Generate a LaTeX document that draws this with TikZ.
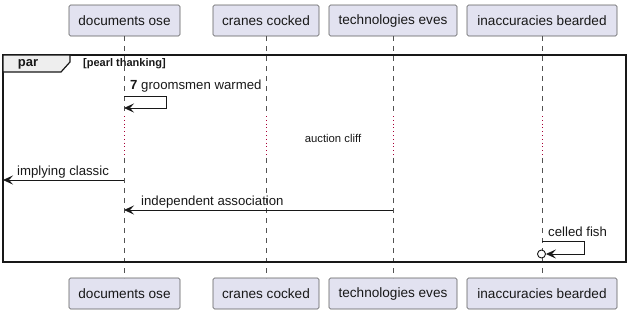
\documentclass[tikz,border=0pt]{standalone}
\usepackage{fontspec}
\setmainfont{Liberation Sans}
\usetikzlibrary{arrows.meta}
\definecolor{partfill}{HTML}{E2E2F0}
\definecolor{partline}{HTML}{5A5A5A}
\definecolor{ink}{HTML}{181818}
\definecolor{delayred}{HTML}{A80036}
\definecolor{tabfill}{HTML}{EEEEEE}
\tikzset{
  part/.style={draw=partline, fill=partfill, line width=0.6pt, rounded corners=1.5pt,
    minimum height=31pt, inner sep=0pt, font=\fontsize{13.6}{15}\selectfont, text=ink},
  life/.style={draw=ink!75, line width=0.5pt, dash pattern=on 5pt off 5pt},
  delay/.style={draw=delayred, line width=0.8pt, dash pattern=on 0.8pt off 3pt},
  msg/.style={draw=ink, line width=0.8pt, -{Stealth[length=10pt, width=9pt, inset=4pt]}},
  lbl/.style={font=\fontsize{13.2}{15}\selectfont, text=ink, inner sep=0pt, anchor=west},
  small/.style={font=\fontsize{11.3}{13}\selectfont, text=ink, inner sep=0pt},
  frameline/.style={draw=ink, line width=1.5pt},
}
\begin{document}
\begin{tikzpicture}[x=1pt, y=-1pt]
\useasboundingbox (0,0) rectangle (632,314);

% participants, top row
\node[part, minimum width=111pt] (dT) at (124.5,20.5) {documents ose};
\node[part, minimum width=106pt] (cT) at (266,20.5) {cranes cocked};
\node[part, minimum width=128pt] (tT) at (393,20.5) {technologies eves};
\node[part, minimum width=150pt] (iT) at (542,20.5) {inaccuracies bearded};
% participants, bottom row
\node[part, minimum width=111pt] (dB) at (124.5,293.5) {documents ose};
\node[part, minimum width=106pt] (cB) at (266,293.5) {cranes cocked};
\node[part, minimum width=128pt] (tB) at (393,293.5) {technologies eves};
\node[part, minimum width=150pt] (iB) at (542,293.5) {inaccuracies bearded};

% lifelines, broken by the delay section
\foreach \p/\x in {d/124, c/266, t/393, i/542}{
  \coordinate (\p1) at (\x,116);
  \coordinate (\p2) at (\x,158);
  \draw[life] (\x,36) -- (\p1);
  \draw[delay] (\p1) -- (\p2);
  \draw[life] (\p2) -- (\x,278);
}

% par frame
\draw[frameline] (3,55) rectangle (626,262);
\draw[line width=1.2pt, draw=ink, fill=tabfill]
  (3,55) -- (70,55) -- (70,62) -- (61,72) -- (3,72) -- cycle;
\node[font=\bfseries\fontsize{13}{15}\selectfont, text=ink, inner sep=0pt] (par) at (28,64.5) {par};
\node[small, font=\bfseries\fontsize{11}{13}\selectfont, anchor=west] (guard) at (83,64) {[pearl thanking]};

% self message on documents ose
\coordinate (s1a) at (124,96);
\coordinate (s1b) at (166,96);
\coordinate (s1c) at (166,108);
\coordinate (s1d) at (124,108);
\draw[msg] (s1a) -- (s1b) -- (s1c) -- (s1d);
\node[lbl] (m1) at (130,86) {\textbf{7} groomsmen warmed};

% delay label
\node[small] (dl) at (333,138) {auction cliff};

% message leaving the frame
\coordinate (out) at (3,180);
\draw[msg] (d1 |- 0,180) -- (out);
\node[lbl] (m2) at (17,172) {implying classic};

% technologies eves to documents ose
\draw[msg] (t2 |- 0,210) -- (d2 |- 0,210);
\node[lbl] (m3) at (141,202) {independent association};

% self message on inaccuracies bearded, ending in a circle
\coordinate (s2a) at (542,241);
\coordinate (s2b) at (584,241);
\coordinate (s2c) at (584,254);
\node[draw=ink, fill=white, line width=0.9pt, circle, minimum size=8pt, inner sep=0pt] (circ) at (541.5,254) {};
\draw[msg] (s2a) -- (s2b) -- (s2c) -- (circ.east);
\node[lbl] (m4) at (548,232) {celled fish};
\end{tikzpicture}
\end{document}
